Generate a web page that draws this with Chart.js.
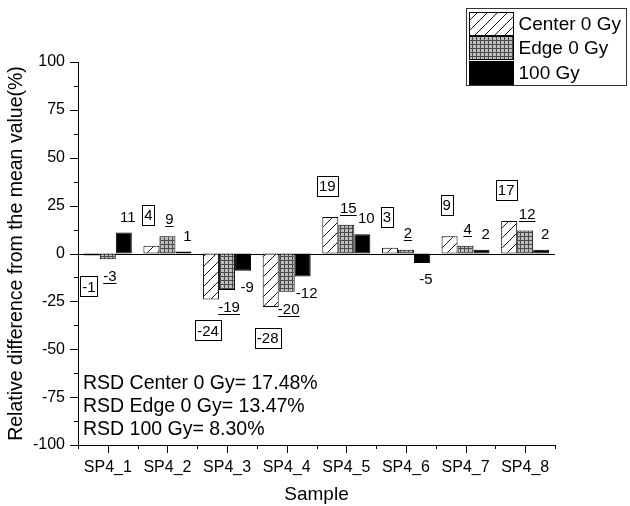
<!DOCTYPE html>
<html>
<head>
<meta charset="utf-8">
<script src="https://cdn.jsdelivr.net/npm/chart.js@4.4.1/dist/chart.umd.min.js"></script>
<style>
  html, body { margin: 0; padding: 0; background: #fff; }
</style>
</head>
<body>
<canvas id="chart" width="630" height="506"></canvas>
<script>
// ---- data ----
const samples = ['SP4_1', 'SP4_2', 'SP4_3', 'SP4_4', 'SP4_5', 'SP4_6', 'SP4_7', 'SP4_8'];
const centerValues = [-1, 4, -24, -28, 19, 3, 9, 17];
const edgeValues = [-3, 9, -19, -20, 15, 2, 4, 12];
const dose100Values = [11, 1, -9, -12, 10, -5, 2, 2];
const seriesNames = ['Center 0 Gy', 'Edge 0 Gy', '100 Gy'];
const rsdLines = ['RSD Center 0 Gy= 17.48%', 'RSD Edge 0 Gy= 13.47%', 'RSD 100 Gy= 8.30%'];
const yMin = -100, yMax = 100, yStep = 25;

const FONT = '"Liberation Sans", Arial, Helvetica, sans-serif';

// ---- fill patterns ----
function makeTile(size, paint) {
  const c = document.createElement('canvas');
  c.width = size; c.height = size;
  const g = c.getContext('2d');
  paint(g, size);
  return document.createElement('canvas').getContext('2d').createPattern(c, 'repeat');
}
const hatchFill = makeTile(10, (g, s) => {
  g.fillStyle = '#fff'; g.fillRect(0, 0, s, s);
  g.strokeStyle = '#000'; g.lineWidth = 0.9;
  g.beginPath();
  g.moveTo(0, s); g.lineTo(s, 0);
  g.moveTo(-2, 2); g.lineTo(2, -2);
  g.moveTo(s - 2, s + 2); g.lineTo(s + 2, s - 2);
  g.stroke();
});
const gridFill = makeTile(4, (g, s) => {
  g.fillStyle = '#bdbdbd'; g.fillRect(0, 0, s, s);
  g.fillStyle = '#4a4a4a';
  g.fillRect(0, 0, s, 1);
  g.fillRect(0, 0, 1, s);
});

// per-series look of the bars and of their value labels
const seriesFills = [hatchFill, gridFill, '#000'];
const labelStyles = ['box', 'underline', 'plain'];
const labelGaps = [31, 17, 16];
const labelShifts = [-3, 2, 4];

const datasets = [centerValues, edgeValues, dose100Values].map((vals, i) => ({
  label: seriesNames[i],
  data: vals,
  backgroundColor: seriesFills[i],
  borderColor: '#000',
  borderWidth: 1,
  borderSkipped: false,
  categoryPercentage: 0.805,
  barPercentage: 1.0,
  labelStyle: labelStyles[i],
  labelGap: labelGaps[i],
  labelShift: labelShifts[i]
}));

// ---- axes furniture: zero line and tick marks ----
const axisDecor = {
  id: 'axisDecor',
  beforeDatasetsDraw(chart) {
    const { ctx, chartArea: a, scales: { y } } = chart;
    const y0 = Math.round(y.getPixelForValue(0)) + 0.5;
    ctx.save();
    ctx.strokeStyle = '#000'; ctx.lineWidth = 1;
    ctx.beginPath(); ctx.moveTo(a.left, y0); ctx.lineTo(a.right, y0); ctx.stroke();
    ctx.restore();
  },
  afterDraw(chart) {
    const { ctx, chartArea: a, scales: { y } } = chart;
    ctx.save();
    ctx.strokeStyle = '#000'; ctx.lineWidth = 1;
    ctx.beginPath();
    for (let v = yMin; v <= yMax + 1e-9; v += yStep / 2) {
      const major = Math.abs(v % yStep) < 1e-9;
      const py = Math.round(y.getPixelForValue(v)) + 0.5;
      const len = major ? 8 : 4;
      ctx.moveTo(a.left - len, py); ctx.lineTo(a.left, py);
    }
    const n = samples.length;
    const w = (a.right - a.left) / n;
    for (let k = 0; k <= 2 * n; k++) {
      const px = Math.round(a.left + k * w / 2) + 0.5;
      const len = (k % 2 === 1) ? 8 : 4;
      ctx.moveTo(px, a.bottom); ctx.lineTo(px, a.bottom + len);
    }
    ctx.stroke();
    ctx.restore();
  }
};

// ---- value labels on the bars ----
const valueLabels = {
  id: 'valueLabels',
  afterDatasetsDraw(chart) {
    const { ctx } = chart;
    ctx.save();
    ctx.font = '15px ' + FONT;
    ctx.textAlign = 'center';
    ctx.textBaseline = 'middle';
    chart.data.datasets.forEach((ds, di) => {
      const meta = chart.getDatasetMeta(di);
      meta.data.forEach((bar, i) => {
        const v = ds.data[i];
        const ly = v >= 0 ? bar.y - ds.labelGap : bar.y + ds.labelGap;
        const lx = bar.x + ds.labelShift;
        const text = String(v);
        const tw = ctx.measureText(text).width;
        if (ds.labelStyle === 'box') {
          const bw = Math.round(tw + 4);
          const bx = Math.round(lx - bw / 2) + 0.5;
          const by = Math.round(ly - 10) + 0.5;
          ctx.fillStyle = '#fff';
          ctx.fillRect(bx, by, bw, 20);
          ctx.strokeStyle = '#000'; ctx.lineWidth = 1;
          ctx.strokeRect(bx, by, bw, 20);
        }
        ctx.fillStyle = '#000';
        ctx.fillText(text, lx, ly + 1);
        if (ds.labelStyle === 'underline') {
          const uy = Math.round(ly + 7) + 0.5;
          ctx.strokeStyle = '#000'; ctx.lineWidth = 1;
          ctx.beginPath(); ctx.moveTo(lx - tw / 2, uy); ctx.lineTo(lx + tw / 2, uy); ctx.stroke();
        }
      });
    });
    ctx.restore();
  }
};

// ---- RSD annotation ----
const rsdText = {
  id: 'rsdText',
  afterDraw(chart) {
    const { ctx, chartArea: a } = chart;
    ctx.save();
    ctx.font = '19.5px ' + FONT;
    ctx.fillStyle = '#000';
    ctx.textAlign = 'left';
    ctx.textBaseline = 'middle';
    rsdLines.forEach((t, i) => ctx.fillText(t, a.left + 5, 384 + i * 23));
    ctx.restore();
  }
};

// ---- boxed legend with pattern swatches ----
const boxLegend = {
  id: 'boxLegend',
  afterDraw(chart) {
    const { ctx } = chart;
    const x0 = 466.5, y0 = 8.5, w = 160, rowH = 24.5;
    ctx.save();
    ctx.strokeStyle = '#333'; ctx.lineWidth = 1;
    ctx.fillStyle = '#fff';
    ctx.fillRect(x0, y0, w, 77);
    ctx.strokeRect(x0, y0, w, 77);
    ctx.font = '19px ' + FONT;
    ctx.textAlign = 'left';
    ctx.textBaseline = 'middle';
    chart.data.datasets.forEach((ds, i) => {
      const sy = Math.round(y0 + 3 + i * rowH) + 0.5;
      ctx.fillStyle = ds.backgroundColor;
      ctx.fillRect(x0 + 3, sy, 44, 23);
      ctx.strokeStyle = '#000';
      ctx.strokeRect(x0 + 3, sy, 44, 23);
      ctx.fillStyle = '#000';
      ctx.fillText(ds.label, x0 + 52, sy + 12.5);
    });
    ctx.restore();
  }
};

new Chart(document.getElementById('chart'), {
  type: 'bar',
  data: { labels: samples, datasets },
  plugins: [axisDecor, valueLabels, rsdText, boxLegend],
  options: {
    responsive: false,
    animation: false,
    devicePixelRatio: 1,
    layout: { padding: { left: 0, right: 75, top: 62, bottom: 0 } },
    plugins: { legend: { display: false }, tooltip: { enabled: false } },
    scales: {
      x: {
        offset: true,
        grid: { display: false, drawTicks: false },
        border: { display: true, color: '#000', width: 1 },
        ticks: { color: '#000', font: { family: FONT, size: 16 }, padding: 13, maxRotation: 0, autoSkip: false },
        title: { display: true, text: 'Sample', color: '#000', font: { family: FONT, size: 19 }, padding: { top: 0, bottom: 0 } },
        afterFit(scale) { scale.height = 61; }
      },
      y: {
        min: yMin, max: yMax,
        grid: { display: false, drawTicks: false },
        border: { display: true, color: '#000', width: 1 },
        ticks: { stepSize: yStep, color: '#000', font: { family: FONT, size: 16 }, padding: 13 },
        title: { display: true, text: 'Relative difference from the mean value(%)', color: '#000', font: { family: FONT, size: 19.5 }, padding: { top: 5, bottom: 0 } },
        afterFit(scale) { scale.width = 78; }
      }
    }
  }
});
</script>
</body>
</html>
